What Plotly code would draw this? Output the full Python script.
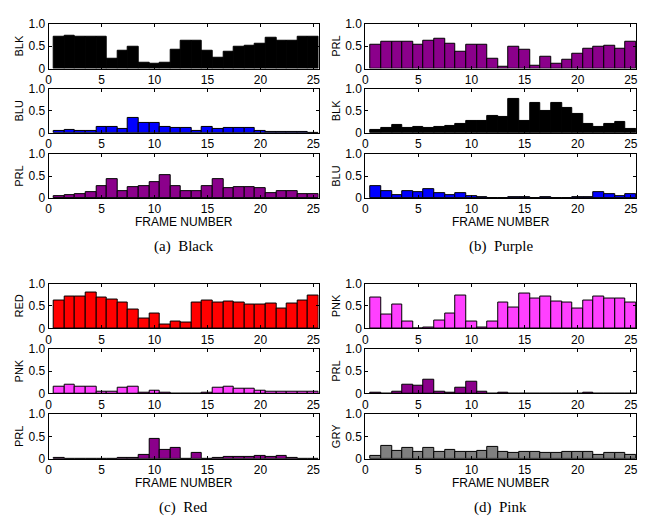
import plotly.graph_objects as go

frames = list(range(1, 26))

# (a) Black
a_blk = [0.70, 0.73, 0.71, 0.72, 0.70, 0.22, 0.40, 0.48, 0.12, 0.10, 0.13, 0.43, 0.62,
         0.61, 0.40, 0.25, 0.38, 0.48, 0.50, 0.56, 0.68, 0.62, 0.63, 0.71, 0.70]
a_blu = [0.03, 0.06, 0.03, 0.03, 0.13, 0.13, 0.08, 0.33, 0.22, 0.22, 0.14, 0.10, 0.10,
         0.05, 0.13, 0.08, 0.10, 0.11, 0.12, 0.03, 0.02, 0.01, 0.01, 0.01, 0.00]
a_prl = [0.04, 0.06, 0.09, 0.13, 0.26, 0.43, 0.15, 0.25, 0.27, 0.35, 0.52, 0.28, 0.16,
         0.16, 0.27, 0.42, 0.22, 0.24, 0.25, 0.23, 0.12, 0.15, 0.15, 0.09, 0.08]
# (b) Purple
b_prl = [0.52, 0.60, 0.60, 0.59, 0.53, 0.62, 0.66, 0.55, 0.37, 0.54, 0.52, 0.21, 0.04,
         0.48, 0.43, 0.07, 0.27, 0.10, 0.20, 0.32, 0.45, 0.48, 0.50, 0.45, 0.60]
b_blk = [0.06, 0.10, 0.18, 0.11, 0.14, 0.10, 0.13, 0.16, 0.19, 0.27, 0.28, 0.39, 0.36,
         0.77, 0.28, 0.68, 0.49, 0.69, 0.56, 0.43, 0.20, 0.14, 0.19, 0.25, 0.08]
b_blu = [0.28, 0.15, 0.06, 0.15, 0.13, 0.20, 0.10, 0.06, 0.12, 0.05, 0.01, 0.00, 0.00,
         0.01, 0.02, 0.00, 0.01, 0.00, 0.00, 0.01, 0.02, 0.14, 0.08, 0.04, 0.08]
# (c) Red
c_red = [0.63, 0.72, 0.70, 0.80, 0.69, 0.64, 0.58, 0.43, 0.21, 0.33, 0.08, 0.14, 0.12,
         0.58, 0.61, 0.58, 0.60, 0.58, 0.52, 0.53, 0.56, 0.44, 0.56, 0.63, 0.73]
c_pnk = [0.15, 0.19, 0.14, 0.15, 0.03, 0.05, 0.12, 0.14, 0.01, 0.07, 0.01, 0.00, 0.00,
         0.00, 0.01, 0.13, 0.15, 0.11, 0.10, 0.06, 0.04, 0.03, 0.03, 0.03, 0.03]
c_prl = [0.01, 0.00, 0.00, 0.00, 0.00, 0.00, 0.01, 0.01, 0.09, 0.44, 0.19, 0.23, 0.00,
         0.12, 0.00, 0.01, 0.04, 0.05, 0.03, 0.07, 0.04, 0.06, 0.02, 0.00, 0.00]
# (d) Pink
d_pnk = [0.68, 0.31, 0.52, 0.16, 0.00, 0.01, 0.17, 0.32, 0.74, 0.16, 0.01, 0.14, 0.58,
         0.46, 0.77, 0.66, 0.72, 0.60, 0.58, 0.44, 0.62, 0.71, 0.67, 0.67, 0.58]
d_prl = [0.01, 0.00, 0.03, 0.19, 0.17, 0.31, 0.04, 0.01, 0.12, 0.26, 0.05, 0.00, 0.02,
         0.00, 0.00, 0.00, 0.00, 0.00, 0.00, 0.00, 0.02, 0.00, 0.00, 0.00, 0.00]
d_gry = [0.06, 0.28, 0.18, 0.24, 0.16, 0.23, 0.15, 0.20, 0.16, 0.16, 0.18, 0.27, 0.16,
         0.12, 0.15, 0.14, 0.12, 0.12, 0.15, 0.16, 0.14, 0.09, 0.12, 0.12, 0.09]

x_ticks = [0, 5, 10, 15, 20, 25]
y_ticks = [0, 0.5, 1.0]
y_ticktext = ["0", "0.5", "1.0"]
captions = ["(a)  Black", "(b)  Purple", "(c)  Red", "(d)  Pink"]

COL = {"BLK": "#000000", "BLU": "#0000FF", "PRL": "#8B008B", "RED": "#FF0000",
       "PNK": "#FF40FF", "GRY": "#808080"}

W, H = 647, 518
cols_px = [(38, 310), (357, 630)]
rows_top = [[(9, 55), (76, 121), (143, 188)], [(276, 322), (343, 389), (410, 456)]]

panels = [
    (0, 0, [("BLK", a_blk), ("BLU", a_blu), ("PRL", a_prl)]),
    (0, 1, [("PRL", b_prl), ("BLK", b_blk), ("BLU", b_blu)]),
    (1, 0, [("RED", c_red), ("PNK", c_pnk), ("PRL", c_prl)]),
    (1, 1, [("PNK", d_pnk), ("PRL", d_prl), ("GRY", d_gry)]),
]

fig = go.Figure()
layout = {}
font = "Liberation Sans, Arial, sans-serif"
n = 0
annotations = []
for (r, c, subs), cap in zip(panels, captions):
    x0, x1 = cols_px[c]
    for k, (name, vals) in enumerate(subs):
        n += 1
        t, b = rows_top[r][k]
        xa = f"xaxis{n}"
        ya = f"yaxis{n}"
        fig.add_trace(go.Bar(x=frames, y=vals, width=1,
                             marker=dict(color=COL[name], line=dict(color="black", width=1)),
                             xaxis=f"x{n}", yaxis=f"y{n}", showlegend=False))
        layout[xa] = dict(domain=[x0 / W, x1 / W], anchor=f"y{n}", range=[0, 25.5],
                          tickvals=x_ticks, ticks="inside", ticklen=3, tickcolor="black",
                          showline=True, linecolor="black", linewidth=1, mirror="ticks",
                          showgrid=False, zeroline=False,
                          tickfont=dict(size=12, family=font, color="black"))
        layout[ya] = dict(domain=[1 - b / H, 1 - t / H], anchor=f"x{n}", range=[0, 1],
                          tickvals=y_ticks, ticktext=y_ticktext, ticks="inside", ticklen=3,
                          tickcolor="black", showline=True, linecolor="black", linewidth=1,
                          mirror="ticks", showgrid=False, zeroline=False,
                          tickfont=dict(size=12, family=font, color="black"),
                          title=dict(text=name, standoff=2,
                                     font=dict(size=11, family=font, color="black")))
        if k == 2:
            annotations.append(dict(text="FRAME NUMBER", x=(x0 + x1) / 2 / W,
                                    y=1 - (b + 25) / H, xref="paper", yref="paper",
                                    showarrow=False, xanchor="center", yanchor="middle",
                                    font=dict(size=12, family=font, color="black")))
            annotations.append(dict(text=cap, x=(x0 + x1) / 2 / W,
                                    y=1 - (b + 50) / H, xref="paper", yref="paper",
                                    showarrow=False, xanchor="center", yanchor="middle",
                                    font=dict(size=15, family="Liberation Serif, Times New Roman, serif",
                                              color="black")))

fig.update_layout(width=W, height=H, margin=dict(l=0, r=0, t=0, b=0),
                  paper_bgcolor="white", plot_bgcolor="white",
                  annotations=annotations, bargap=0, **layout)

fig.write_html("out.html")
